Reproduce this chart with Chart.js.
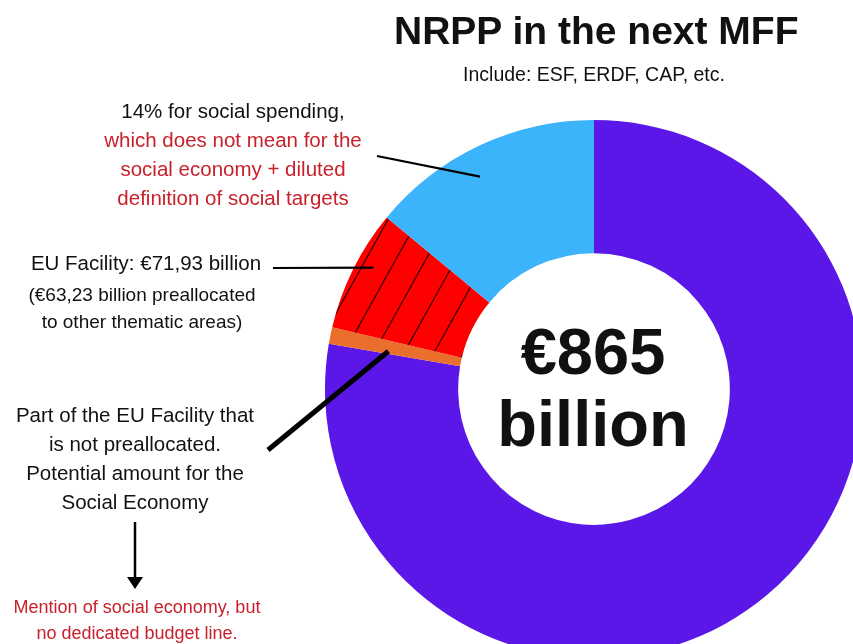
<!DOCTYPE html>
<html>
<head>
<meta charset="utf-8">
<script src="https://cdn.jsdelivr.net/npm/chart.js@4/dist/chart.umd.min.js"></script>
<style>
  html, body { margin: 0; padding: 0; background: #fff; }
  #page { position: relative; width: 853px; height: 644px; overflow: hidden; font-family: "Liberation Sans", Arial, Helvetica, sans-serif; color: #111; }
  #chart { position: absolute; left: 0; top: 0; }
  .txt { position: absolute; text-align: center; white-space: nowrap; }
  .red { color: #c9202b; }
</style>
</head>
<body>
<div id="page">
  <canvas id="chart" width="1000" height="700"></canvas>

  <div class="txt" style="left:394px; top:11px; width:400px; font-size:39px; line-height:39px; font-weight:bold;">NRPP in the next MFF</div>
  <div class="txt" style="left:444px; top:64px; width:300px; font-size:19.5px; line-height:20px;">Include: ESF, ERDF, CAP, etc.</div>

  <div class="txt" style="left:83px; top:96px; width:300px; font-size:20.5px; line-height:29px;">
    14% for social spending,<br>
    <span class="red">which does not mean for the<br>social economy + diluted<br>definition of social targets</span>
  </div>

  <div class="txt" style="left:-4px; top:249px; width:300px; font-size:20.5px; line-height:27px;">EU Facility: €71,93 billion</div>
  <div class="txt" style="left:-8px; top:282px; width:300px; font-size:19px; line-height:26.5px;">(€63,23 billion preallocated<br>to other thematic areas)</div>

  <div class="txt" style="left:-15px; top:400px; width:300px; font-size:20.5px; line-height:29px;">
    Part of the EU Facility that<br>is not preallocated.<br>Potential amount for the<br>Social Economy
  </div>

  <div class="txt red" style="left:-13px; top:594px; width:300px; font-size:18px; line-height:26px;">
    Mention of social economy, but<br>no dedicated budget line.
  </div>

  <div class="txt" style="left:443px; top:316px; width:300px; font-size:65px; line-height:72px; font-weight:bold;">€865<br>billion</div>
</div>

<script>
// values in billion EUR, clockwise from the top
const labels = ['Rest of NRPP', 'EU Facility, not preallocated', 'EU Facility, preallocated', 'Social spending (14%)'];
const values = [671.97, 8.70, 63.23, 121.10];
const colors = ['#5a17e8', '#ea6f2c', 'hatch', '#3bb4fb'];

// leader lines: start point next to the text, end inside a slice
const leaders = [
  { from: [377, 156], slice: 3, angleFrac: 0.44, radiusFrac: 0.79, width: 2.2 },
  { from: [273, 268], slice: 2, angleFrac: 0.59, radiusFrac: 0.87, width: 2.2 },
  { from: [268, 450], slice: 1, angleFrac: 0.2, radiusFrac: 0.55, width: 5 }
];

function makeHatch() {
  const w = 30, h = 54;
  const c = document.createElement('canvas');
  c.width = w;
  c.height = h;
  const g = c.getContext('2d');
  g.fillStyle = '#fe0000';
  g.fillRect(0, 0, w, h);
  g.strokeStyle = '#3a0000';
  g.lineWidth = 1.3;
  [-w, 0, w].forEach((dx) => {
    g.beginPath();
    g.moveTo(dx, h);
    g.lineTo(dx + w, 0);
    g.stroke();
  });
  return g.createPattern(c, 'repeat');
}

const hatch = makeHatch();

const leaderPlugin = {
  id: 'leaders',
  afterDatasetsDraw(chart) {
    const ctx = chart.ctx;
    const meta = chart.getDatasetMeta(0);
    ctx.save();
    ctx.strokeStyle = '#000';
    ctx.lineCap = 'butt';
    leaders.forEach((l) => {
      const arc = meta.data[l.slice];
      const a = arc.startAngle + l.angleFrac * (arc.endAngle - arc.startAngle);
      const r = arc.innerRadius + l.radiusFrac * (arc.outerRadius - arc.innerRadius);
      ctx.lineWidth = l.width;
      ctx.beginPath();
      ctx.moveTo(l.from[0], l.from[1]);
      ctx.lineTo(arc.x + r * Math.cos(a), arc.y + r * Math.sin(a));
      ctx.stroke();
    });

    // arrow down to the note
    ctx.lineWidth = 2.5;
    ctx.beginPath();
    ctx.moveTo(135, 522);
    ctx.lineTo(135, 580);
    ctx.stroke();
    ctx.fillStyle = '#000';
    ctx.beginPath();
    ctx.moveTo(127, 577);
    ctx.lineTo(143, 577);
    ctx.lineTo(135, 589);
    ctx.closePath();
    ctx.fill();
    ctx.restore();
  }
};

new Chart(document.getElementById('chart').getContext('2d'), {
  type: 'doughnut',
  data: {
    labels,
    datasets: [
      {
        data: values,
        backgroundColor: colors.map((c) => (c === 'hatch' ? hatch : c)),
        borderWidth: 0,
        hoverOffset: 0
      }
    ]
  },
  options: {
    responsive: false,
    animation: false,
    cutout: '50.5%',
    layout: {
      padding: { left: 325, right: 137, top: 120, bottom: 42 }
    },
    events: [],
    plugins: {
      legend: { display: false },
      tooltip: { enabled: false }
    }
  },
  plugins: [leaderPlugin]
});
</script>
</body>
</html>
